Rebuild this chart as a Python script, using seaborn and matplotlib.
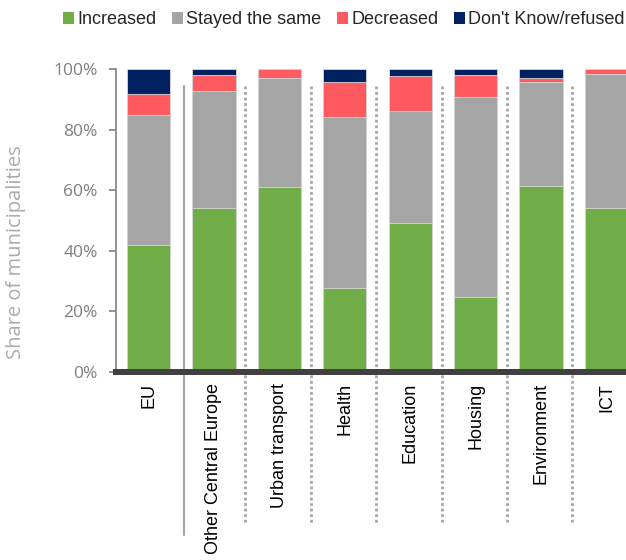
import numpy as np
import pandas as pd
import matplotlib
matplotlib.use("Agg")
import matplotlib.pyplot as plt
import matplotlib.transforms as mtransforms
from matplotlib.patches import Patch
import seaborn as sns

# Data (share of municipalities, %)
categories = ["EU", "Other Central Europe", "Urban transport", "Health",
              "Education", "Housing", "Environment", "ICT"]
increased = [41.9, 54.1, 61.0, 27.7, 49.2, 24.8, 61.5, 54.1]
stayed = [42.8, 38.8, 36.1, 56.3, 36.9, 65.8, 34.3, 44.2]
decreased = [6.9, 5.0, 2.9, 11.6, 11.6, 7.4, 1.1, 1.7]
dont_know = [8.4, 2.1, 0.0, 4.4, 2.3, 2.0, 3.1, 0.0]

series_names = ["Increased", "Stayed the same", "Decreased", "Don't Know/refused"]
colors = ["#70ad47", "#a5a5a5", "#ff5a5f", "#002060"]

df = pd.DataFrame({
    "category": categories,
    "Increased": increased,
    "Stayed the same": stayed,
    "Decreased": decreased,
    "Don't Know/refused": dont_know,
})
cum = df[series_names].cumsum(axis=1) / 100.0

sns.set_style("white")
plt.rcParams["font.family"] = ["Liberation Sans", "DejaVu Sans"]

fig = plt.figure(figsize=(6.26, 5.6), dpi=100)
ax = fig.add_axes([115.8 / 626, 188 / 560, 523.4 / 626, 303 / 560])

# stacked bars: draw cumulative totals from top layer down
for name, col in reversed(list(zip(series_names, colors))):
    sns.barplot(x=df["category"], y=cum[name], order=categories, color=col,
                width=0.66, edgecolor="#d9d9d9", linewidth=0.6, ax=ax,
                saturation=1)

ax.set_xlim(-0.5, 7.5)
ax.set_ylim(0, 1)
ax.set_yticks(np.arange(0, 1.01, 0.2))
ax.set_yticklabels([f"{int(round(v*100))}%" for v in np.arange(0, 1.01, 0.2)],
                   family=["Open Sans", "DejaVu Sans"], fontsize=12.5,
                   color="#7f7f7f")
ax.tick_params(axis="y", length=5, width=1.2, color="#7f7f7f", pad=8,
               left=True)
ax.tick_params(axis="x", length=0, pad=8, labelsize=13, labelrotation=90,
               labelcolor="black")
ax.set_xlabel("")
ax.set_ylabel("Share of municipalities", family=["Open Sans", "DejaVu Sans"],
              fontsize=14.5, color="#ababab")
ax.yaxis.set_label_coords(-0.172, 0.396)

for s in ["top", "right"]:
    ax.spines[s].set_visible(False)
ax.spines["left"].set_color("#7f7f7f")
ax.spines["left"].set_linewidth(1.2)
ax.spines["bottom"].set_color("#404040")
ax.spines["bottom"].set_linewidth(4.3)
ax.spines["bottom"].set_zorder(5)

# separators between groups
trans = mtransforms.blended_transform_factory(ax.transData, ax.transAxes)
ax.plot([0.55, 0.55], [0.944, -0.538], transform=trans, color="#a6a6a6",
        lw=1.5, clip_on=False)
for i in range(1, len(categories) - 1):
    ax.plot([i + 0.48, i + 0.48], [0.944, -0.505], transform=trans,
            color="#a6a6a6", lw=2, linestyle=(0, (1, 1)), clip_on=False)

handles = [Patch(facecolor=c, edgecolor="none") for c in colors]
fig.legend(handles, series_names, loc="center right",
           bbox_to_anchor=(0.998, 1 - 20 / 560), ncol=4, frameon=False,
           fontsize=13, handlelength=0.6, handleheight=0.6,
           handletextpad=0.2, columnspacing=0.85, borderaxespad=0,
           borderpad=0)

fig.savefig("out.png", dpi=100)
